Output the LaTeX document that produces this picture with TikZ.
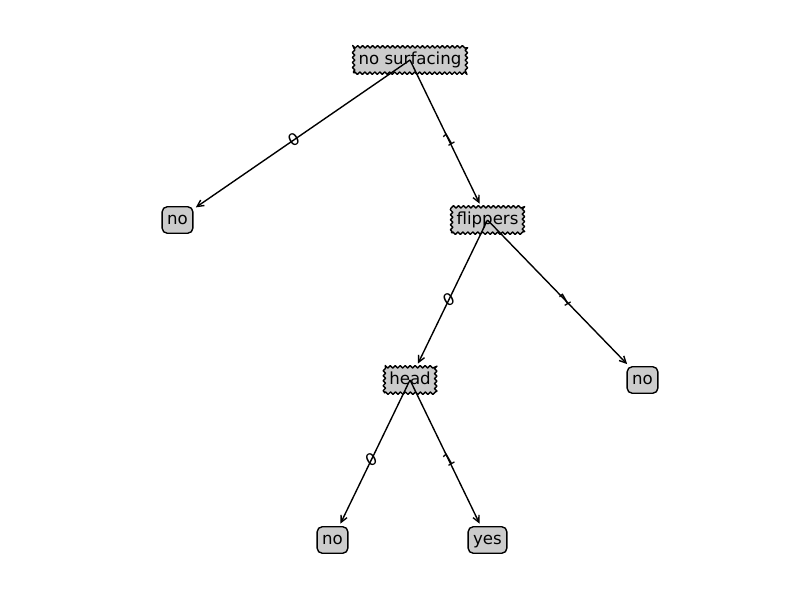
\documentclass[tikz,border=0pt]{standalone}
\usepackage{fontspec}
\setmainfont{DejaVu Sans}
\usetikzlibrary{arrows.meta, positioning, calc, decorations.pathmorphing}

\begin{document}
\begin{tikzpicture}[x=0.01in, y=-0.01in, line join=round,
    every node/.style={font=\fontsize{12}{14}\selectfont},
    entscheid/.style={draw, fill=black!20, line width=1bp, inner sep=3.6pt,
      text height=9.1pt, text depth=2.8pt, decorate,
      decoration={zigzag, segment length=3.6pt, amplitude=0.9pt}},
    blatt/.style={draw, fill=black!20, line width=1bp, inner sep=3.6pt,
      text height=9.1pt, text depth=2.8pt, rounded corners=3.6pt},
    pfeil/.style={line width=1bp, -{Straight Barb[length=4.8pt, width=4.8pt]},
      shorten >=2bp},
    wert/.style={rotate=30, inner sep=0pt}]
    \useasboundingbox (0,0) rectangle (800,600);
    % Entscheidungsknoten
    \node[entscheid] (root) at (410,60) {no surfacing};
    \node[entscheid] (flip) at (487.5,220) {flippers};
    \node[entscheid] (head) at (410,380) {head};
    % Blaetter
    \node[blatt] (L1) at (177.5,220) {no};
    \node[blatt] (L2) at (642.5,380) {no};
    \node[blatt] (L3) at (332.5,540) {no};
    \node[blatt] (L4) at (487.5,540) {yes};
    % Kanten
    \draw[pfeil] (root.center) -- (L1);
    \draw[pfeil] (root.center) -- (flip);
    \draw[pfeil] (flip.center) -- (head);
    \draw[pfeil] (flip.center) -- (L2);
    \draw[pfeil] (head.center) -- (L3);
    \draw[pfeil] (head.center) -- (L4);
    % Kantenwerte
    \node[wert] (w1) at ($(root)!0.5!(L1)$) {0};
    \node[wert] (w2) at ($(root)!0.5!(flip)$) {1};
    \node[wert] (w3) at ($(flip)!0.5!(head)$) {0};
    \node[wert] (w4) at ($(flip)!0.5!(L2)$) {1};
    \node[wert] (w5) at ($(head)!0.5!(L3)$) {0};
    \node[wert] (w6) at ($(head)!0.5!(L4)$) {1};
  \end{tikzpicture}
\end{document}
